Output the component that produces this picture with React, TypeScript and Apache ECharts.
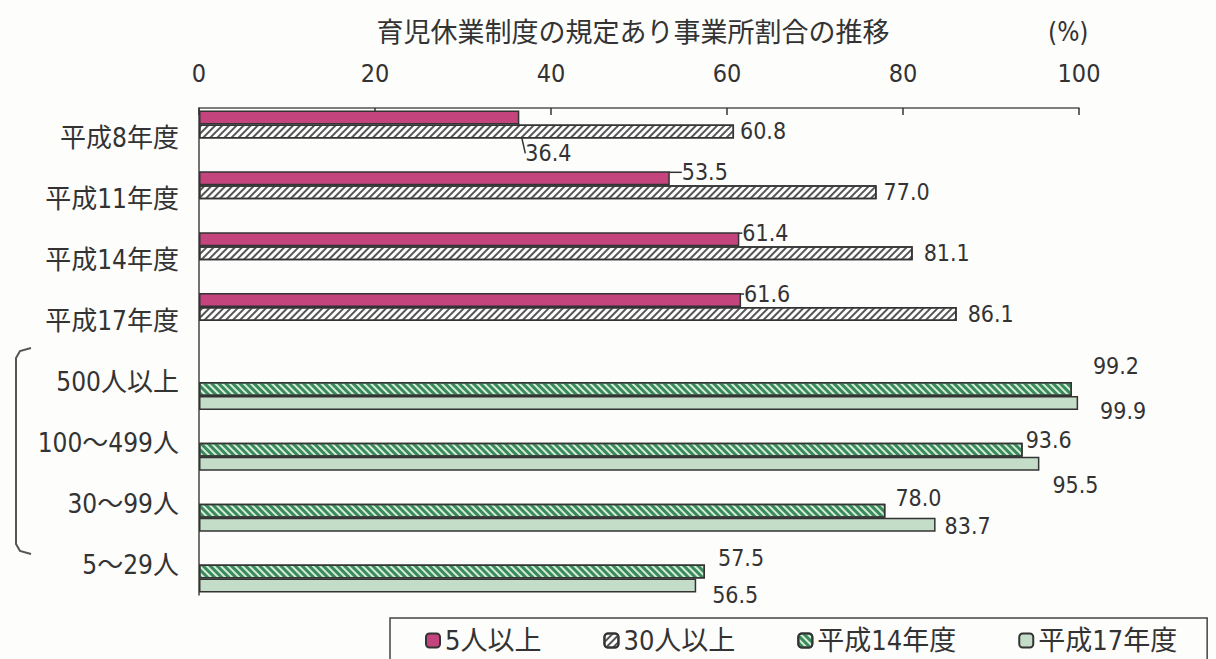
import React, { useEffect, useRef } from "react";
import * as echarts from "echarts";

const categories = ["平成8年度", "平成11年度", "平成14年度", "平成17年度", "500人以上", "100〜499人", "30〜99人", "5〜29人"];
const seriesNames = ["5人以上", "30人以上", "平成14年度", "平成17年度"];
const over5 = [36.4, 53.5, 61.4, 61.6, null, null, null, null];
const over30 = [60.8, 77.0, 81.1, 86.1, null, null, null, null];
const h14 = [null, null, null, null, 99.2, 93.6, 78.0, 57.5];
const h17 = [null, null, null, null, 99.9, 95.5, 83.7, 56.5];
const xTicks = { min: 0, max: 100, interval: 20 };

// label nudges (dx, dy) per category index
const over5Nudge: Record<number, [number, number]> = { 0: [4, 36], 1: [10, -6], 2: [1, -6], 3: [1, -6] };
const over30Nudge: Record<number, [number, number]> = { 0: [4, 0], 1: [5, 0], 2: [9, 0], 3: [9, 0] };
const h14Nudge: Record<number, [number, number]> = { 4: [19, -23], 5: [1, -10], 6: [8, -13], 7: [11, -14] };
const h17Nudge: Record<number, [number, number]> = { 4: [20, 8], 5: [11, 21], 6: [7, 1], 7: [14, 9] };

const FONT = "'DejaVu Sans Condensed', 'Noto Sans CJK JP', sans-serif";
const JFONT = "'Noto Sans CJK JP', sans-serif";

const nudge = (tbl: Record<number, [number, number]>) => (p: any) => {
  const n = tbl[p.dataIndex];
  return n ? { dx: n[0], dy: n[1] } : {};
};

export default function App() {
  const ref = useRef<HTMLDivElement>(null);
  useEffect(() => {
    const chart = echarts.init(ref.current!, null, { renderer: "svg" });
    const labelBase = {
      show: true,
      position: "right",
      distance: 2,
      fontFamily: FONT,
      fontSize: 23,
      color: "#333",
      formatter: (p: any) => (p.value == null ? "" : Number(p.value).toFixed(1)),
    };
    const border = { borderColor: "#333", borderWidth: 1.5 };
    chart.setOption({
      animation: false,
      backgroundColor: "#fdfdfc",
      title: {
        text: "育児休業制度の規定あり事業所割合の推移",
        left: 628,
        top: 12,
        textAlign: "center",
        textStyle: { fontFamily: JFONT, fontSize: 27, fontWeight: "normal", color: "#333" },
      },
      graphic: [
        { type: "text", left: 1048, top: 19, style: { text: "(%)", font: "26px " + FONT, fill: "#333" } },
        {
          type: "polyline",
          shape: { points: [[31, 348], [20, 351], [16, 358], [16, 544], [20, 551], [31, 554]] },
          style: { stroke: "#555", lineWidth: 2, fill: null },
        },
      ],
      legend: {
        left: 390,
        top: 618,
        padding: [9, 30, 30, 35],
        borderColor: "#444",
        borderWidth: 1.5,
        itemGap: 62,
        itemWidth: 14,
        itemHeight: 14,
        textStyle: { fontFamily: FONT, fontSize: 27, color: "#333" },
        data: seriesNames,
      },
      grid: { left: 199, right: 137, top: 108, bottom: 64 },
      xAxis: {
        type: "value",
        position: "top",
        min: xTicks.min,
        max: xTicks.max,
        interval: xTicks.interval,
        axisLine: { show: true, lineStyle: { color: "#555", width: 1.5 } },
        axisTick: { show: true, inside: true, length: 7, lineStyle: { color: "#333", width: 1.5 } },
        axisLabel: { fontFamily: FONT, fontSize: 25, color: "#333", margin: 22 },
        splitLine: { show: false },
      },
      yAxis: {
        type: "category",
        inverse: true,
        data: categories,
        axisLine: { show: true, lineStyle: { color: "#444", width: 1.5 } },
        axisTick: { show: false },
        axisLabel: { fontFamily: FONT, fontSize: 26, color: "#333", margin: 20, padding: [6, 0, 0, 0] },
      },
      series: [
        {
          name: seriesNames[0],
          type: "bar",
          data: over5,
          barWidth: 14,
          barGap: "0%",
          itemStyle: { color: "#c4447e", ...border },
          label: labelBase,
          labelLayout: nudge(over5Nudge),
          labelLine: { show: true, lineStyle: { color: "#333", width: 1.5 } },
        },
        {
          name: seriesNames[1],
          type: "bar",
          data: over30,
          barWidth: 14,
          barGap: "0%",
          itemStyle: {
            color: "#ffffff",
            ...border,
            decal: { symbol: "rect", symbolSize: 1, color: "#555", dashArrayX: [1, 0], dashArrayY: [1.5, 2.5], rotation: -Math.PI / 4 },
          },
          label: labelBase,
          labelLayout: nudge(over30Nudge),
        },
        {
          name: seriesNames[2],
          type: "bar",
          data: h14,
          barWidth: 14,
          barGap: "0%",
          itemStyle: {
            color: "#d4ecdb",
            ...border,
            decal: { symbol: "rect", symbolSize: 1, color: "#3a8a5a", dashArrayX: [1, 0], dashArrayY: [2.5, 1.5], rotation: Math.PI / 4 },
          },
          label: labelBase,
          labelLayout: nudge(h14Nudge),
        },
        {
          name: seriesNames[3],
          type: "bar",
          data: h17,
          barWidth: 14,
          barGap: "0%",
          itemStyle: { color: "#c3ddc8", ...border },
          label: labelBase,
          labelLayout: nudge(h17Nudge),
        },
      ],
    });
    return () => chart.dispose();
  }, []);
  return <div ref={ref} style={{ position: "fixed", left: 0, top: 0, width: 1216, height: 659 }} />;
}
